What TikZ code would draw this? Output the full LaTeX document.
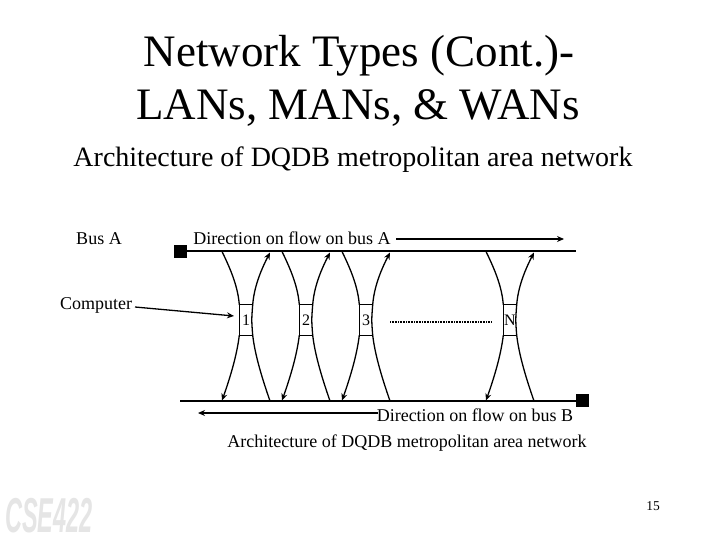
\documentclass[tikz,border=0pt]{standalone}
\usepackage{fontspec}
\setmainfont{Liberation Serif}
\newfontfamily\logofont[FakeStretch=0.48]{Liberation Sans Bold Italic}
\usetikzlibrary{arrows.meta}
\tikzset{
  line/.style={draw=black,line width=1.3pt},
  bus/.style={draw=black,line width=1.7pt},
  tip/.style={-{Stealth[length=7pt,width=6pt]}},
  lab/.style={inner sep=0pt,text=black,anchor=base},
  square/.style={fill=black,draw=none,minimum size=13pt,inner sep=0pt},
  station/.style={draw=none,minimum width=13pt,minimum height=30pt,inner sep=0pt}
}
\begin{document}
\begin{tikzpicture}[x=1pt,y=-1pt]
\useasboundingbox (0,0) rectangle (720,540);
\fill[white] (0,0) rectangle (720,540);
% title
\node[lab,font=\fontsize{45}{45}\selectfont] (t1) at (359,67) {Network Types (Cont.)-};
\node[lab,font=\fontsize{45}{45}\selectfont] (t2) at (358,120) {LANs, MANs, \& WANs};
\node[lab,font=\fontsize{28}{28}\selectfont] (t3) at (353,167) {Architecture of DQDB metropolitan area network};
% left labels
\node[lab,font=\fontsize{18}{18}\selectfont] (busa) at (99,244) {Bus A};
\node[lab,font=\fontsize{18}{18}\selectfont] (comp) at (96,309) {Computer};
\node[lab,font=\fontsize{18}{18}\selectfont] (dira) at (292,244) {Direction on flow on bus A};
\node[lab,font=\fontsize{18}{18}\selectfont] (dirb) at (475,421) {Direction on flow on bus B};
\node[lab,font=\fontsize{18}{18}\selectfont] (cap) at (407,447) {Architecture of DQDB metropolitan area network};
\node[lab,font=\fontsize{13.5}{14}\selectfont] (pg) at (653,510) {15};
% logo
\node[lab,text=black!10,font=\logofont\fontsize{49}{49}\selectfont] (logo) at (49,532) {CSE422};
% buses
\node[square] (sqa) at (180.5,251.5) {};
\node[square] (sqb) at (582.5,400.5) {};
\coordinate (aend) at (576,251);
\coordinate (bstart) at (180,401);
\draw[bus] (sqa.east |- aend) -- (aend);
\draw[bus] (bstart) -- (sqb.west |- bstart);
% direction arrows
\coordinate (as) at (396,239);
\coordinate (ae) at (564,239);
\coordinate (bs) at (378,413);
\coordinate (be) at (198,413);
\draw[bus,tip] (as) -- (ae);
\draw[bus,tip] (bs) -- (be);
% computer arrow
\coordinate (cs) at (135,307);
\coordinate (ce) at (234,316);
\draw[line,tip] (cs) -- (ce);
% dotted
\coordinate (ds) at (390,322);
\coordinate (de) at (491,322);
\draw[line width=1.2pt,line cap=butt,dash pattern=on 1pt off 0.6pt] (ds) -- (de);
% stations
\foreach \n/\cx/\t in {s1/246/1,s2/306/2,s3/366/3,sn/510/N}{
  \node[station] (\n) at (\cx,320) {\fontsize{16}{16}\selectfont \t};
  \coordinate (\n tl) at (\cx-24,251.5);
  \coordinate (\n tr) at (\cx+24,252.5);
  \coordinate (\n bl) at (\cx-24,400.5);
  \coordinate (\n br) at (\cx+24,401);
  \draw[line] (\n.north west) -- (\n.north east);
  \draw[line] (\n.south west) -- (\n.south east);
  \draw[line] (\n.north west) .. controls (\cx-7.5,320) .. (\n.south west);
  \draw[line] (\n.north east) .. controls (\cx+5.5,320) .. (\n.south east);
  \draw[line] (\n tl) .. controls (\cx-14,272) and (\cx-8,288) .. (\n.north west);
  \draw[line,tip] (\n.north east) .. controls (\cx+8,288) and (\cx+14,272) .. (\n tr);
  \draw[line,tip] (\n.south west) .. controls (\cx-9,355) and (\cx-16,378) .. (\n bl);
  \draw[line] (\n.south east) .. controls (\cx+9,355) and (\cx+16,378) .. (\n br);
}
\end{tikzpicture}
\end{document}
